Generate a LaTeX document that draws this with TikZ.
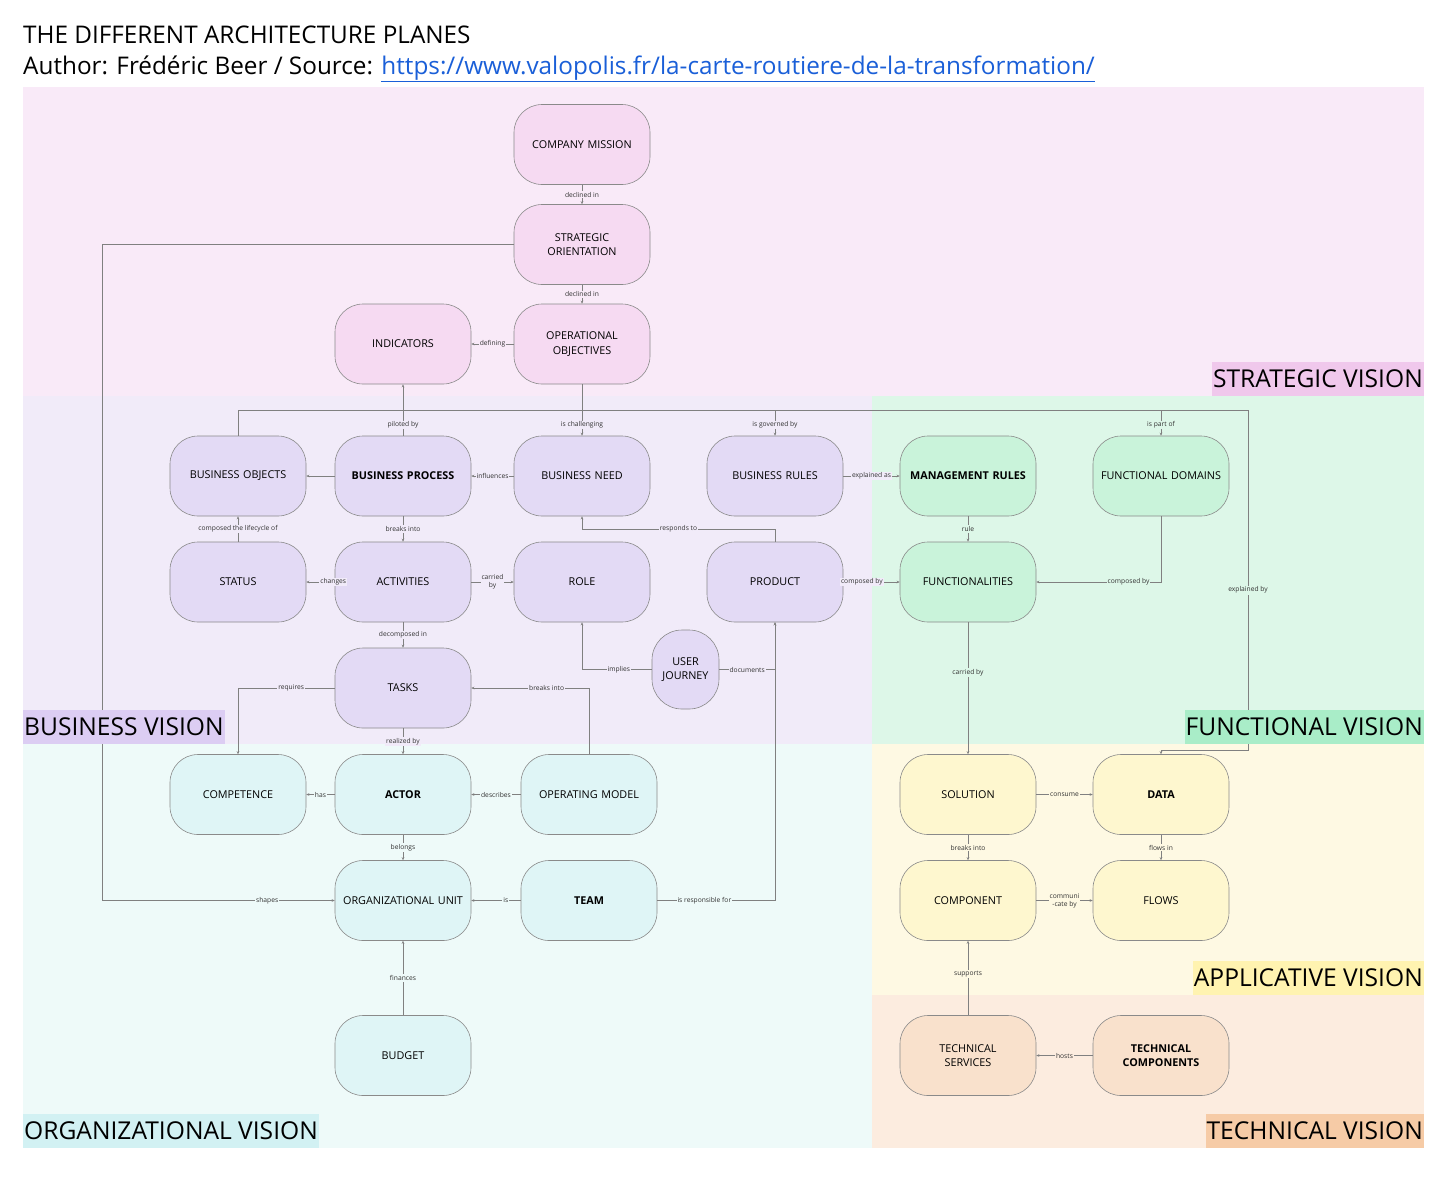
\documentclass[tikz,border=0pt]{standalone}
\usepackage{fontspec}
\setmainfont{Open Sans}
\usetikzlibrary{arrows.meta,calc}
\definecolor{regS}{HTML}{F9EAF8}
\definecolor{regB}{HTML}{F1EBF9}
\definecolor{regF}{HTML}{DDF7E8}
\definecolor{regO}{HTML}{EEFAF9}
\definecolor{regA}{HTML}{FEF9E3}
\definecolor{regT}{HTML}{FCECDF}
\definecolor{nodS}{HTML}{F6DAF2}
\definecolor{nodB}{HTML}{E3DAF5}
\definecolor{nodF}{HTML}{C9F3DA}
\definecolor{nodO}{HTML}{DFF5F6}
\definecolor{nodA}{HTML}{FEF7CF}
\definecolor{nodT}{HTML}{F9E1CC}
\definecolor{tagS}{HTML}{F0C8EC}
\definecolor{tagB}{HTML}{DCCDF3}
\definecolor{tagF}{HTML}{A9EDC8}
\definecolor{tagO}{HTML}{D2F1F3}
\definecolor{tagA}{HTML}{FFF3B0}
\definecolor{tagT}{HTML}{F6CBA6}
\definecolor{edgec}{HTML}{808080}
\definecolor{boxline}{HTML}{8A8A8A}
\definecolor{linkblue}{HTML}{1A5FD8}
\tikzset{
  ent/.style={draw=boxline, line width=0.6pt, fill=#1, rounded corners=28pt,
    minimum width=136pt, minimum height=80pt, align=center, text width=132pt,
    inner sep=0pt, font=\fontsize{10.8}{14.5}\selectfont},
  con/.style={draw=edgec, line width=0.6pt, -{Stealth[length=3pt,width=2.6pt]}},
  lbl/.style={fill=#1, font=\fontsize{6.7}{8}\selectfont, inner sep=1pt, text=black!80, align=center},
  tag/.style={fill=#1, font=\fontsize{24.6}{28}\selectfont, inner xsep=1pt, inner ysep=0pt, minimum height=34pt}
}
\begin{document}
\begin{tikzpicture}[x=1pt,y=-1pt]
\useasboundingbox (0,0) rectangle (1456,1176);
\fill[white] (0,0) rectangle (1456,1176);
% regions
\fill[regS] (23,87) rectangle (1424,396);
\fill[regB] (23,396) rectangle (872,744);
\fill[regF] (872,396) rectangle (1424,744);
\fill[regO] (23,744) rectangle (872,1148);
\fill[regA] (872,744) rectangle (1424,995);
\fill[regT] (872,995) rectangle (1424,1148);
% titles
\node[anchor=west, inner sep=0pt, font=\fontsize{24.3}{28}\selectfont] (title) at (23,35) {THE DIFFERENT ARCHITECTURE PLANES};
\node[anchor=west, inner sep=0pt, font=\fontsize{24.3}{28}\selectfont] (author) at (23,69) {Author: Frédéric Beer / Source: \textcolor{linkblue}{\underline{https://www.valopolis.fr/la-carte-routiere-de-la-transformation/}}};
% nodes - strategic
\node[ent=nodS] (cm) at (582,144.5) {COMPANY MISSION};
\node[ent=nodS] (so) at (582,244.5) {STRATEGIC\\ORIENTATION};
\node[ent=nodS] (oo) at (582,344) {OPERATIONAL\\OBJECTIVES};
\node[ent=nodS] (ind) at (403,344) {INDICATORS};
% business
\node[ent=nodB] (bo) at (238,476) {BUSINESS OBJECTS};
\node[ent=nodB] (bp) at (403,476) {\textbf{BUSINESS PROCESS}};
\node[ent=nodB] (bn) at (582,476) {BUSINESS NEED};
\node[ent=nodB] (br) at (775,476) {BUSINESS RULES};
\node[ent=nodB] (st) at (238,582) {STATUS};
\node[ent=nodB] (act) at (403,582) {ACTIVITIES};
\node[ent=nodB] (role) at (582,582) {ROLE};
\node[ent=nodB] (prod) at (775,582) {PRODUCT};
\node[ent=nodB] (tasks) at (403,688) {TASKS};
\node[ent=nodB, minimum width=67pt, minimum height=79pt, text width=64pt, rounded corners=30pt] (uj) at (685.5,669.5) {USER\\JOURNEY};
% functional
\node[ent=nodF] (mr) at (968,476) {\textbf{MANAGEMENT RULES}};
\node[ent=nodF] (fd) at (1161,476) {FUNCTIONAL DOMAINS};
\node[ent=nodF] (func) at (968,582) {FUNCTIONALITIES};
% organizational
\node[ent=nodO] (comp) at (238,794.5) {COMPETENCE};
\node[ent=nodO] (actor) at (403,794.5) {\textbf{ACTOR}};
\node[ent=nodO] (om) at (589,794.5) {OPERATING MODEL};
\node[ent=nodO] (ou) at (403,900.5) {ORGANIZATIONAL UNIT};
\node[ent=nodO] (team) at (589,900.5) {\textbf{TEAM}};
\node[ent=nodO] (bud) at (403,1055.5) {BUDGET};
% applicative
\node[ent=nodA] (sol) at (968,794.5) {SOLUTION};
\node[ent=nodA] (data) at (1161,794.5) {\textbf{DATA}};
\node[ent=nodA] (cpt) at (968,900.5) {COMPONENT};
\node[ent=nodA] (flows) at (1161,900.5) {FLOWS};
% technical
\node[ent=nodT] (ts) at (968,1055.5) {TECHNICAL\\SERVICES};
\node[ent=nodT] (tc) at (1161,1055.5) {\textbf{TECHNICAL}\\\textbf{COMPONENTS}};
% connectors - strategic
\draw[con] (cm) -- node[lbl=regS]{declined in} (so);
\draw[con] (so) -- node[lbl=regS]{declined in} (oo);
\draw[con] (oo) -- node[lbl=regS]{defining} (ind);
\draw[con] (so.west) -- (102,244.5) -- (102,900.5) -- node[lbl=regO, pos=0.71]{shapes} (ou.west);
\draw[con] (bp.north) -- node[lbl=regB, pos=0.21]{piloted by} (ind.south);
\draw[con] (oo.south) -- node[lbl=regB, pos=0.79]{is challenging} (bn.north);
% bus at y=410
\draw[con] (bo.north) -- (238,410) -- (775,410) -- node[lbl=regB, pos=0.58]{is governed by} (br.north);
\draw[con] (bo.north) -- (238,410) -- (1161,410) -- node[lbl=regF, pos=0.58]{is part of} (fd.north);
\draw[con] (bo.north) -- (238,410) -- (1248,410) -- node[lbl=regF, pos=0.53]{explained by} (1248,750) -- (1161,750) -- (data.north);
% business
\draw[con] (bp) -- (bo);
\draw[con] (bn) -- node[lbl=regB]{influences} (bp);
\draw[con] (br) -- node[lbl=regB]{explained as} (mr);
\draw[con] (mr) -- node[lbl=regF]{rule} (func);
\draw[con] (fd.south) -- (1161,582) -- node[lbl=regF, pos=0.26]{composed by} (func.east);
\draw[con] (prod) -- node[lbl=regB, pos=0.33]{composed by} (func);
\draw[con] (prod.north) -- (775,529) -- node[lbl=regB]{responds to} (582,529) -- (bn.south);
\draw[con] (st) -- node[lbl=regB]{composed the lifecycle of} (bo);
\draw[con] (bp) -- node[lbl=regB]{breaks into} (act);
\draw[con] (act) -- node[lbl=regB, pos=0.05]{changes} (st);
\draw[con] (act) -- node[lbl=regB]{carried\\by} (role);
\draw[con] (act) -- node[lbl=regB]{decomposed in} (tasks);
\draw[con] (uj.west) -- node[lbl=regB, pos=0.47]{implies} (582,669.5) -- (role.south);
\draw[con] (uj.east) -- node[lbl=regB]{documents} (775,669.5) -- (prod.south);
\draw[con] (team.east) -- node[lbl=regO, pos=0.4]{is responsible for} (775,900.5) -- (prod.south);
\draw[con] (tasks.west) -- node[lbl=regB, pos=0.45]{requires} (238,688) -- (comp.north);
\draw[con] (om.north) -- (589,688) -- node[lbl=regB, pos=0.36]{breaks into} (tasks.east);
\draw[con] (tasks) -- node[lbl=regB, pos=0.5]{realized by} (actor);
% organizational
\draw[con] (actor) -- node[lbl=regO]{has} (comp);
\draw[con] (om) -- node[lbl=regO]{describes} (actor);
\draw[con] (actor) -- node[lbl=regO]{belongs} (ou);
\draw[con] (team) -- node[lbl=regO, pos=0.3]{is} (ou);
\draw[con] (bud) -- node[lbl=regO, pos=0.5]{finances} (ou);
% applicative / technical
\draw[con] (func) -- node[lbl=regF, pos=0.38]{carried by} (sol);
\draw[con] (sol) -- node[lbl=regA]{consume} (data);
\draw[con] (sol) -- node[lbl=regA]{breaks into} (cpt);
\draw[con] (data) -- node[lbl=regA]{flows in} (flows);
\draw[con] (cpt) -- node[lbl=regA]{communi\\-cate by} (flows);
\draw[con] (ts) -- node[lbl=regA, pos=0.55]{supports} (cpt);
\draw[con] (tc) -- node[lbl=regT]{hosts} (ts);
% plane tags
\node[tag=tagS, anchor=south east] (tS) at (1424,396) {STRATEGIC VISION};
\node[tag=tagB, anchor=south west] (tB) at (23,744) {BUSINESS VISION};
\node[tag=tagF, anchor=south east] (tF) at (1424,744) {FUNCTIONAL VISION};
\node[tag=tagO, anchor=south west] (tO) at (23,1148) {ORGANIZATIONAL VISION};
\node[tag=tagA, anchor=south east] (tA) at (1424,995) {APPLICATIVE VISION};
\node[tag=tagT, anchor=south east] (tT) at (1424,1148) {TECHNICAL VISION};
\end{tikzpicture}
\end{document}
